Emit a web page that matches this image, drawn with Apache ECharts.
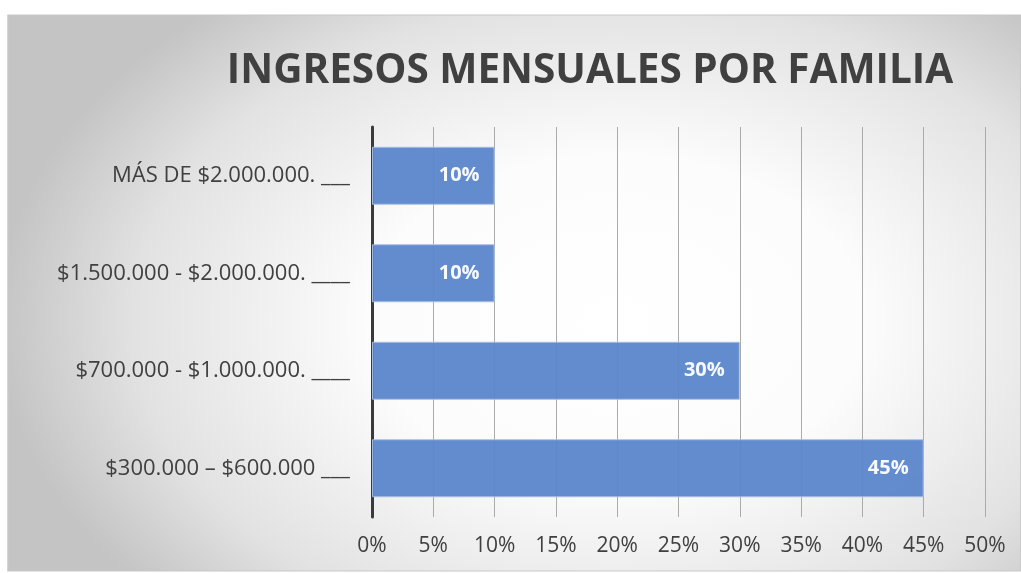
<!DOCTYPE html>
<html>
<head>
<meta charset="utf-8">
<script src="https://cdn.jsdelivr.net/npm/echarts@6/dist/echarts.min.js"></script>
<style>
  html, body { margin: 0; padding: 0; background: #fff; }
  #main { width: 1021px; height: 573px; }
</style>
</head>
<body>
<div id="main"></div>
<script>
var categories = ['MÁS DE $2.000.000. ___', '$1.500.000 - $2.000.000. ____', '$700.000 - $1.000.000. ____', '$300.000 – $600.000 ___'];
var values = [10, 10, 30, 45];

var myChart = echarts.init(document.getElementById('main'));

// background panel: elliptical radial gradient (square rect stretched horizontally)
var bgScale = 1.5;

var option = {
    animation: false,
    graphic: [{
        type: 'rect',
        x: 8,
        y: 15,
        scaleX: bgScale,
        shape: { width: 1013 / bgScale, height: 556 },
        style: {
            fill: {
                type: 'radial', x: 0.6, y: 0.55, r: 0.74,
                colorStops: [
                    { offset: 0, color: '#ffffff' },
                    { offset: 0.4, color: '#fcfcfc' },
                    { offset: 0.78, color: '#e2e2e2' },
                    { offset: 1, color: '#c4c4c4' }
                ]
            },
            stroke: '#c8c8c8',
            lineWidth: 1,
            strokeNoScale: true
        },
        z: -10
    }],
    title: {
        text: 'INGRESOS MENSUALES POR FAMILIA',
        left: 585,
        top: 46,
        textAlign: 'center',
        textStyle: {
            color: '#404040',
            fontSize: 40.5,
            fontWeight: 'bold',
            fontFamily: 'Open Sans'
        }
    },
    grid: {
        left: 372,
        right: 36,
        top: 127,
        bottom: 56
    },
    xAxis: {
        type: 'value',
        min: 0,
        max: 50,
        interval: 5,
        axisLine: { show: false },
        axisTick: { show: false },
        axisLabel: {
            formatter: '{value}%',
            color: '#404040',
            fontSize: 21,
            fontFamily: 'Open Sans',
            margin: 19
        },
        splitLine: { lineStyle: { color: '#ababab', width: 1 } }
    },
    yAxis: {
        type: 'category',
        inverse: true,
        data: categories,
        axisLine: { lineStyle: { color: '#3a3a3a', width: 3 } },
        axisTick: { show: false },
        axisLabel: {
            color: '#404040',
            fontSize: 22,
            fontFamily: 'Open Sans',
            margin: 22
        }
    },
    series: [{
        type: 'bar',
        data: values,
        barWidth: 58,
        itemStyle: {
            color: '#5b86cc',
            opacity: 0.95,
            borderColor: '#a9bfe6',
            borderWidth: 1
        },
        label: {
            show: true,
            position: 'insideRight',
            distance: 15,
            formatter: '{c}%',
            color: '#ffffff',
            fontSize: 20,
            fontWeight: 'bold',
            fontFamily: 'Open Sans'
        }
    }]
};

myChart.setOption(option);
</script>
</body>
</html>
